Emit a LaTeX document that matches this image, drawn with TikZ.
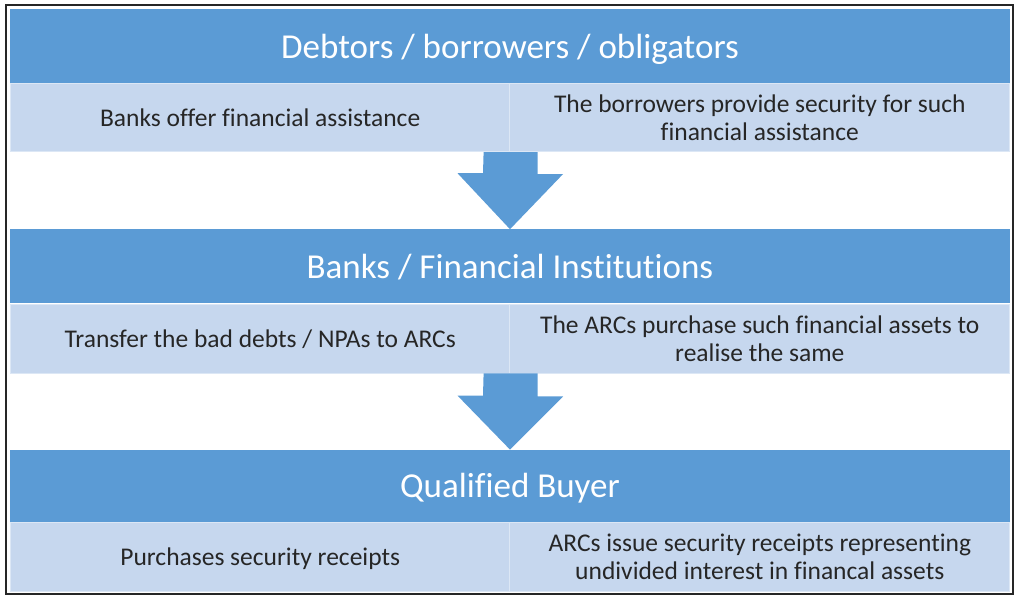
\documentclass[tikz,border=0pt]{standalone}
\usepackage{fontspec}
\setmainfont[Ligatures=CommonOff]{Carlito}
\usetikzlibrary{calc,positioning}
\definecolor{azulcab}{HTML}{5B9BD5}
\definecolor{azulfila}{HTML}{C6D7EE}
\definecolor{lineafila}{HTML}{DCE7F5}

\begin{document}
\begin{tikzpicture}[x=1pt,y=-1pt,
  cabecera/.style={fill=azulcab,text=white,minimum width=1000pt,minimum height=74pt,inner sep=0pt,text depth=0pt,font=\fontsize{35}{40}\selectfont},
  celda/.style={fill=azulfila,draw=lineafila,line width=0.8pt,minimum width=500pt,minimum height=68pt,inner sep=0pt,text depth=0pt,align=center,text=black!85,font=\fontsize{25.5}{28}\selectfont},
  flecha/.style={fill=azulcab}]
\useasboundingbox (0,0) rectangle (1016,598);
\draw[line width=1.6pt,black!85] (6,5) rectangle (1013,594);
% primer bloque
\node[cabecera] (h1) at (510,46) {Debtors / borrowers / obligators};
\node[celda,anchor=north west] (a1) at (h1.south west) {Banks offer financial assistance};
\node[celda,anchor=north east] (b1) at (h1.south east) {The borrowers provide security for such\\financial assistance};
% segundo bloque
\node[cabecera,below=146pt of h1] (h2) {Banks / Financial Institutions};
\node[celda,anchor=north west,minimum height=69pt] (a2) at (h2.south west) {Transfer the bad debts / NPAs to ARCs};
\node[celda,anchor=north east,minimum height=69pt] (b2) at (h2.south east) {The ARCs purchase such financial assets to\\realise the same};
% tercer bloque
\node[cabecera,below=146pt of h2,minimum height=72pt] (h3) {Qualified Buyer};
\node[celda,anchor=north west,minimum height=69pt] (a3) at (h3.south west) {Purchases security receipts};
\node[celda,anchor=north east,minimum height=69pt] (b3) at (h3.south east) {ARCs issue security receipts representing\\undivided interest in financal assets};
% flechas
\fill[flecha] ($(a1.south east)+(-27,0)$) -- ++(54,0) -- ++(0,22) -- ++(25.5,0) -- (h2.north) -- ++(-52.5,-56) -- ++(25.5,0) -- cycle;
\fill[flecha] ($(a2.south east)+(-27,0)$) -- ++(54,0) -- ++(0,23) -- ++(25.5,0) -- (h3.north) -- ++(-52.5,-54) -- ++(25.5,0) -- cycle;
\end{tikzpicture}
\end{document}
